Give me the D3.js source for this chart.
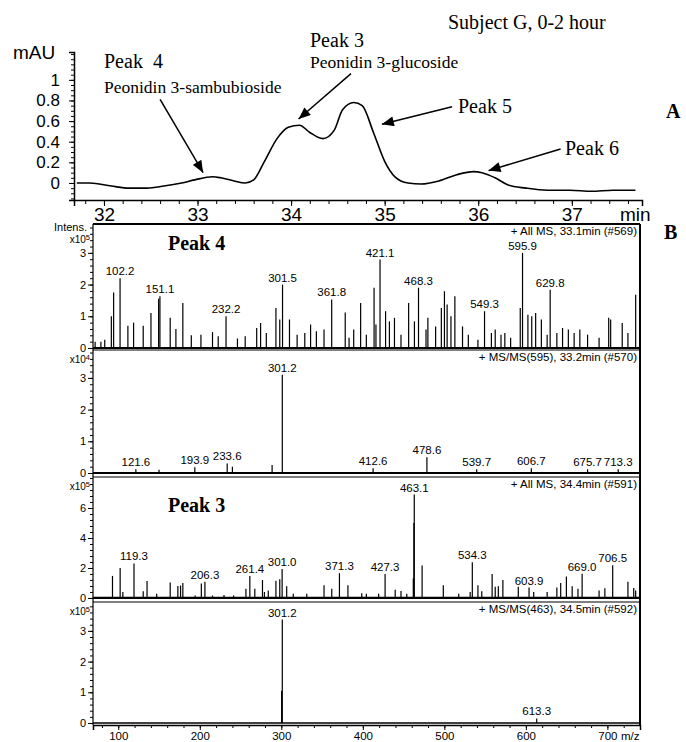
<!DOCTYPE html>
<html>
<head>
<meta charset="utf-8">
<script src="https://cdnjs.cloudflare.com/ajax/libs/d3/7.8.5/d3.min.js"></script>
<style>
  body { margin: 0; background: #fff; }
  svg { display: block; }
  .serif { font-family: "Liberation Serif", "Times New Roman", serif; }
  .sans { font-family: "Liberation Sans", Arial, sans-serif; }
  .axis path, .axis line { stroke: #000; }
  .axis text { fill: #000; }
</style>
</head>
<body>
<div id="chart"></div>
<script>
/*********************************************************/
// Panel A - UV trace (retention time in min, absorbance in mAU)
const retentionTime = [31.71, 31.85, 32.08, 32.27, 32.46, 32.64, 32.83, 32.97, 33.16, 33.25, 33.39, 33.51,
  33.6, 33.71, 33.85, 33.97, 34.09, 34.2, 34.34, 34.46, 34.55, 34.67, 34.76, 34.88, 35.0, 35.11, 35.25,
  35.39, 35.58, 35.77, 35.95, 36.04, 36.18, 36.32, 36.51, 36.74, 36.98, 37.21, 37.44, 37.68];
const absorbance = [0.0, 0.0, -0.03, -0.05, -0.05, -0.03, 0.0, 0.03, 0.06, 0.05, 0.02, 0.0,
  0.03, 0.2, 0.43, 0.54, 0.56, 0.49, 0.43, 0.51, 0.71, 0.78, 0.75, 0.49, 0.21, 0.06, 0.0,
  -0.01, 0.02, 0.08, 0.11, 0.1, 0.05, -0.02, -0.05, -0.07, -0.07, -0.08, -0.07, -0.07];

// Panel A arrows, from label to peak (time, mAU)
const arrowFrom = [[32.6, 0.81], [34.64, 1.06], [35.72, 0.74], [36.88, 0.33]];
const arrowTo = [[33.06, 0.1], [34.08, 0.62], [34.97, 0.57], [36.11, 0.12]];

/*********************************************************/
// Panel B - mass spectra (m/z, intensity in units of the row exponent)
const ms1Mz = [71.6, 78.7, 83.4, 91.5, 94.3, 102.2, 111.8, 118.8, 130.6, 140.1, 149.5, 151.1, 163.7, 170.7,
  179.2, 189.6, 201.4, 215.6, 222.6, 232.2, 246.2, 255.7, 269.8, 274.6, 281.6, 293.4, 298.1, 301.5, 310.0,
  319.4, 328.8, 335.9, 343.0, 352.4, 361.8, 378.4, 383.1, 388.8, 397.3, 404.3, 413.8, 416.1, 421.1, 427.9,
  432.6, 438.8, 446.8, 456.2, 463.3, 468.3, 477.5, 479.8, 489.3, 496.3, 500.1, 503.4, 508.1, 512.9, 522.3,
  529.4, 541.2, 549.3, 557.7, 562.4, 569.5, 574.2, 581.3, 593.1, 595.9, 602.5, 607.2, 612.0, 619.0, 626.1,
  629.8, 638.0, 645.0, 652.1, 659.2, 666.2, 675.7, 689.8, 701.6, 704.0, 718.2, 725.2, 734.7];
const ms1Int = [0.2, 0.2, 0.26, 1.0, 1.75, 2.2, 0.7, 0.8, 0.7, 1.1, 1.55, 1.63, 0.95, 0.6,
  1.42, 0.4, 0.42, 0.5, 0.37, 1.0, 0.3, 0.37, 0.63, 0.79, 0.47, 1.26, 0.9, 2.0, 0.9,
  0.42, 0.47, 0.74, 0.53, 0.58, 1.53, 1.12, 0.32, 0.58, 1.42, 0.42, 1.9, 0.74, 2.79, 1.16,
  0.84, 0.95, 0.42, 1.42, 0.84, 1.9, 0.58, 0.95, 0.68, 1.26, 1.79, 1.37, 1.0, 1.63, 0.68,
  0.42, 0.26, 1.16, 0.47, 0.58, 0.42, 0.47, 0.32, 1.26, 3.0, 1.05, 1.0, 1.1, 0.9, 0.42,
  1.84, 0.47, 0.63, 0.58, 0.47, 0.58, 0.42, 0.32, 0.95, 0.9, 0.79, 0.47, 1.68];
const ms1Labels = ["102.2", "151.1", "232.2", "301.5", "361.8", "421.1", "468.3", "549.3", "595.9", "629.8"];

const ms2Mz = [121.6, 150.0, 193.9, 233.6, 240.0, 288.7, 301.2, 412.6, 478.6, 539.7, 606.7, 675.7, 713.3];
const ms2Int = [0.12, 0.1, 0.18, 0.3, 0.2, 0.25, 3.1, 0.15, 0.5, 0.12, 0.15, 0.12, 0.12];
const ms2Labels = ["121.6", "193.9", "233.6", "301.2", "412.6", "478.6", "539.7", "606.7", "675.7", "713.3"];

const ms3Mz = [92.9, 102.3, 105.6, 119.3, 130.6, 135.3, 147.1, 163.7, 173.1, 176.4, 179.2, 194.3, 201.9, 206.3,
  215.6, 229.7, 241.5, 256.6, 261.4, 267.5, 276.9, 279.3, 284.0, 293.4, 298.1, 301.0, 306.6, 314.7, 331.2,
  352.4, 361.9, 371.3, 381.7, 398.7, 404.3, 419.4, 427.3, 439.7, 446.8, 453.9, 461.9, 462.6, 463.1, 472.7,
  498.7, 517.6, 531.7, 534.3, 541.2, 545.9, 558.6, 562.4, 566.2, 571.8, 590.7, 603.9, 609.6, 626.1, 638.0,
  642.7, 649.7, 656.8, 663.9, 669.0, 689.8, 696.9, 706.5, 725.2, 732.3, 734.7];
const ms3Int = [1.47, 2.0, 0.4, 2.3, 0.45, 1.13, 0.28, 1.03, 0.8, 0.83, 1.0, 0.16, 0.97, 1.08,
  0.16, 0.2, 0.16, 0.62, 1.47, 0.62, 1.2, 0.4, 0.5, 1.15, 1.24, 1.93, 0.78, 0.28, 0.28,
  0.85, 0.62, 1.65, 0.85, 0.32, 0.28, 0.28, 1.59, 0.55, 0.46, 0.28, 1.3, 5.0, 6.9, 2.16,
  0.85, 0.28, 0.39, 2.39, 0.85, 0.44, 1.59, 0.74, 0.78, 1.2, 0.74, 0.69, 0.39, 0.39, 0.69,
  1.0, 1.43, 0.78, 0.62, 1.61, 0.5, 0.64, 2.18, 1.08, 0.67, 0.5];
const ms3Labels = ["119.3", "206.3", "261.4", "301.0", "371.3", "427.3", "463.1", "534.3", "603.9", "669.0", "706.5"];

const ms4Mz = [300.4, 301.2, 613.3];
const ms4Int = [1.05, 3.37, 0.15];
const ms4Labels = ["301.2", "613.3"];

const rowTitles = ["+ All MS, 33.1min (#569)", "+ MS/MS(595), 33.2min (#570)",
  "+ All MS, 34.4min (#591)", "+ MS/MS(463), 34.5min (#592)"];
const rowExponents = ["5", "4", "5", "5"];
const rowTicks = [[0, 1, 2, 3], [0, 1, 2, 3], [0, 2, 4, 6], [0, 1, 2, 3]];
const rowMax = [3.91, 3.88, 8.07, 3.94];
const rowMin = [-0.063, -0.126, -0.27, -0.065];
const rowMinorStep = [0.2, 0.2, 0.4, 0.2];
const mzTicks = [100, 200, 300, 400, 500, 600, 700];

/*********************************************************/
const svgWidth = 686;
const svgHeight = 742;

const svg = d3.select("#chart")
  .append("svg")
  .attr("width", svgWidth)
  .attr("height", svgHeight);

/******************** Panel A ********************/
const xA = d3.scaleLinear().domain([31.68, 37.75]).range([74, 642]);
const yA = d3.scaleLinear().domain([-0.165, 1.27]).range([200, 52]);

// arrow head
svg.append("defs").append("marker")
  .attr("id", "head")
  .attr("viewBox", "0 0 12 10")
  .attr("refX", 12).attr("refY", 5)
  .attr("markerWidth", 13).attr("markerHeight", 10)
  .attr("markerUnits", "userSpaceOnUse")
  .attr("orient", "auto")
  .append("path")
  .attr("d", "M0,0 L12,5 L0,10 Z")
  .attr("fill", "#000");

// minor ticks
svg.append("g")
  .attr("class", "axis")
  .attr("transform", "translate(74,0)")
  .call(d3.axisLeft(yA).tickValues(d3.range(-0.15, 1.26, 0.05)).tickSize(3).tickFormat(""))
  .call(g => g.select(".domain").remove());

svg.append("g")
  .attr("class", "axis sans")
  .attr("transform", "translate(74,0)")
  .call(d3.axisLeft(yA).tickValues([0, 0.2, 0.4, 0.6, 0.8, 1]).tickSize(5).tickPadding(9)
    .tickFormat(d => (d === 0 || d === 1) ? d : d.toFixed(1)))
  .call(g => g.select(".domain").attr("stroke-width", 1.5))
  .call(g => g.selectAll("text").attr("font-size", "17px").attr("font-family", "Liberation Sans, Arial, sans-serif"));

svg.append("g")
  .attr("class", "axis")
  .attr("transform", "translate(0,200)")
  .call(d3.axisBottom(xA).tickValues(d3.range(31.8, 37.7, 0.2)).tickSize(4).tickFormat(""))
  .call(g => g.select(".domain").remove());

svg.append("g")
  .attr("class", "axis sans")
  .attr("transform", "translate(0,200)")
  .call(d3.axisBottom(xA).tickValues([32, 33, 34, 35, 36, 37]).tickSize(6).tickPadding(2).tickFormat(d3.format("d")))
  .call(g => g.select(".domain").attr("stroke-width", 1.5))
  .call(g => g.selectAll("text").attr("font-size", "19px").attr("font-family", "Liberation Sans, Arial, sans-serif"));

svg.append("text").attr("class", "sans").text("mAU")
  .attr("x", 13).attr("y", 59).attr("font-size", "19px");
svg.append("text").attr("class", "sans").text("min")
  .attr("x", 620).attr("y", 221).attr("font-size", "19px");

// trace
svg.append("path")
  .datum(retentionTime.map((t, i) => [t, absorbance[i]]))
  .attr("fill", "none")
  .attr("stroke", "#000")
  .attr("stroke-width", 1.6)
  .attr("d", d3.line().x(d => xA(d[0])).y(d => yA(d[1])).curve(d3.curveMonotoneX));

// arrows
svg.selectAll(".arrow")
  .data(arrowFrom)
  .enter()
  .append("line")
  .attr("class", "arrow")
  .attr("x1", d => xA(d[0])).attr("y1", d => yA(d[1]))
  .attr("x2", (d, i) => xA(arrowTo[i][0])).attr("y2", (d, i) => yA(arrowTo[i][1]))
  .attr("stroke", "#000").attr("stroke-width", 1.5)
  .attr("marker-end", "url(#head)");

// annotations
const notesA = [
  { t: "Subject G, 0-2 hour", x: 448, y: 29, s: 20 },
  { t: "Peak 3", x: 310, y: 47, s: 20 },
  { t: "Peonidin 3-glucoside", x: 310, y: 68, s: 17.5 },
  { t: "Peak\u00a0\u00a04", x: 104, y: 68, s: 20 },
  { t: "Peonidin 3-sambubioside", x: 104, y: 93, s: 17.5 },
  { t: "Peak 5", x: 458, y: 113, s: 20 },
  { t: "Peak 6", x: 565, y: 155, s: 20 }
];
svg.selectAll(".noteA")
  .data(notesA)
  .enter()
  .append("text")
  .attr("class", "noteA serif")
  .attr("x", d => d.x).attr("y", d => d.y)
  .attr("font-size", d => d.s + "px")
  .text(d => d.t);

svg.append("text").attr("class", "serif").text("A")
  .attr("x", 666).attr("y", 118).attr("font-size", "20px").attr("font-weight", "bold");
svg.append("text").attr("class", "serif").text("B")
  .attr("x", 664).attr("y", 239).attr("font-size", "20px").attr("font-weight", "bold");

/******************** Panel B ********************/
const xB = d3.scaleLinear().domain([69, 740]).range([93, 640]);
const rowTop = [224, 350, 477, 602];
const rowBottom = [350, 477, 602, 725];
const rows = [
  { mz: ms1Mz, val: ms1Int, labels: ms1Labels },
  { mz: ms2Mz, val: ms2Int, labels: ms2Labels },
  { mz: ms3Mz, val: ms3Int, labels: ms3Labels },
  { mz: ms4Mz, val: ms4Int, labels: ms4Labels }
];

rows.forEach((row, r) => {
  const y = d3.scaleLinear().domain([rowMin[r], rowMax[r]]).range([rowBottom[r], rowTop[r]]);
  const g = svg.append("g");

  // ticks
  g.append("g")
    .attr("class", "axis")
    .attr("transform", "translate(93,0)")
    .call(d3.axisLeft(y).tickValues(d3.range(0, rowMax[r], rowMinorStep[r])).tickSize(3).tickFormat(""))
    .call(a => a.select(".domain").remove());
  g.append("g")
    .attr("class", "axis sans")
    .attr("transform", "translate(93,0)")
    .call(d3.axisLeft(y).tickValues(rowTicks[r]).tickSize(5).tickPadding(2).tickFormat(d3.format("d")))
    .call(a => a.select(".domain").remove())
    .call(a => a.selectAll("text").attr("font-size", "11px").attr("font-family", "Liberation Sans, Arial, sans-serif"));

  // exponent
  const ex = g.append("text").attr("class", "sans")
    .attr("x", 90).attr("y", rowTop[r] + (r === 0 ? 19 : 13))
    .attr("text-anchor", "end").attr("font-size", "10px");
  ex.append("tspan").text("x10");
  ex.append("tspan").text(rowExponents[r]).attr("dy", -3).attr("font-size", "7.5px");

  // baseline
  g.append("line")
    .attr("x1", 93).attr("x2", 640)
    .attr("y1", y(0)).attr("y2", y(0))
    .attr("stroke", "#000").attr("stroke-width", r === 3 ? 1.5 : 2.2);

  // peaks
  const peaks = row.mz.map((m, i) => ({ mz: m, v: row.val[i] }));
  g.selectAll(".peak")
    .data(peaks)
    .enter()
    .append("line")
    .attr("class", "peak")
    .attr("x1", d => xB(d.mz)).attr("x2", d => xB(d.mz))
    .attr("y1", y(0)).attr("y2", d => y(d.v))
    .attr("stroke", "#000").attr("stroke-width", 1.2);

  g.selectAll(".plabel")
    .data(peaks.filter(d => row.labels.includes(d.mz.toFixed(1))))
    .enter()
    .append("text")
    .attr("class", "plabel sans")
    .attr("x", d => xB(d.mz)).attr("y", d => y(d.v) - 3)
    .attr("text-anchor", "middle")
    .attr("font-size", "11.5px")
    .text(d => d.mz.toFixed(1));

  // title
  g.append("text").attr("class", "sans")
    .attr("x", 637).attr("y", rowTop[r] + 11)
    .attr("text-anchor", "end").attr("font-size", "11.5px")
    .text(rowTitles[r]);

  // separator
  g.append("line")
    .attr("x1", 93).attr("x2", 640)
    .attr("y1", rowTop[r]).attr("y2", rowTop[r])
    .attr("stroke", "#000").attr("stroke-width", r === 0 ? 2 : 1.2);
});

svg.append("text").attr("class", "sans").text("Intens.")
  .attr("x", 87).attr("y", 231).attr("text-anchor", "end").attr("font-size", "11px");

svg.append("text").attr("class", "serif").text("Peak 4")
  .attr("x", 168).attr("y", 250).attr("font-size", "20px").attr("font-weight", "bold");
svg.append("text").attr("class", "serif").text("Peak 3")
  .attr("x", 168).attr("y", 512).attr("font-size", "20px").attr("font-weight", "bold");

// frame
svg.append("line").attr("x1", 93).attr("x2", 93).attr("y1", 224).attr("y2", 725)
  .attr("stroke", "#000").attr("stroke-width", 1.2);
svg.append("line").attr("x1", 640).attr("x2", 640).attr("y1", 224).attr("y2", 725)
  .attr("stroke", "#000").attr("stroke-width", 2);

// bottom m/z axis
svg.append("g")
  .attr("class", "axis")
  .attr("transform", "translate(0,725)")
  .call(d3.axisBottom(xB).tickValues(d3.range(80, 740, 20)).tickSize(3).tickFormat(""))
  .call(a => a.select(".domain").remove());
svg.append("g")
  .attr("class", "axis sans")
  .attr("transform", "translate(0,725)")
  .call(d3.axisBottom(xB).tickValues(mzTicks).tickSize(5).tickPadding(2))
  .call(a => a.select(".domain").attr("stroke-width", 1.5))
  .call(a => a.selectAll("text").attr("font-size", "11.5px").attr("font-family", "Liberation Sans, Arial, sans-serif"));
svg.append("text").attr("class", "sans").text("m/z")
  .attr("x", 621).attr("y", 740).attr("font-size", "11.5px");
</script>
</body>
</html>
